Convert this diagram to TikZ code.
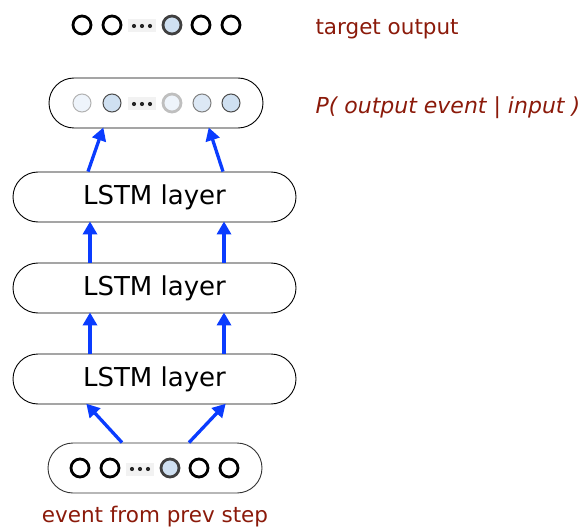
\documentclass[tikz,border=0pt]{standalone}
\usepackage{fontspec}
\setmainfont{DejaVu Sans}
\usetikzlibrary{arrows.meta,calc}
\definecolor{redtxt}{HTML}{8B1A0A}
\definecolor{arrblue}{HTML}{0A3CFF}
\definecolor{fillA}{HTML}{CFE0F1}
\definecolor{fillB}{HTML}{EEF4FB}
\definecolor{fillC}{HTML}{DCE8F5}
\tikzset{
  pill/.style={draw=black, line width=0.9pt, rounded corners=25pt, minimum width=#1, minimum height=50pt, inner sep=0pt},
  unit/.style={circle, minimum size=18pt, inner sep=0pt, line width=2.8pt, draw=black, fill=white},
  hot/.style={unit, draw=black!75, fill=fillA},
  dotsbox/.style={fill=black!5, minimum width=28pt, minimum height=13pt, inner sep=0pt},
  flow/.style={-{Triangle[length=13pt,width=14pt]}, draw=arrblue, line width=3.3pt, shorten >=-1pt},
  lbl/.style={text=redtxt, font=\fontsize{21.5}{24}\selectfont, anchor=west},
  lstm/.style={pill=283pt, font=\fontsize{26}{28}\selectfont}
}
\newcommand{\mydots}[1]{\foreach \dx in {-8,0,8} \fill[black!85] ($(#1)+(\dx,0)$) circle (2.1pt);}
\begin{document}
\begin{tikzpicture}[x=1pt,y=-1pt]
\useasboundingbox (0,0) rectangle (584,532);
% target row
\node[unit] (t1) at (82,25) {};
\node[unit] (t2) at (112,25) {};
\node[dotsbox] (td) at (142,26) {};
\mydots{td}
\node[hot] (t4) at (172,25) {};
\node[unit] (t5) at (201,25) {};
\node[unit] (t6) at (231,25) {};
% output box
\node[pill=214pt] (out) at (156,103) {};
\node[unit, line width=1pt, draw=black!30, fill=fillB] (o1) at (82,103) {};
\node[unit, line width=1pt, draw=black!70, fill=fillA] (o2) at (112,103) {};
\node[dotsbox] (od) at (142,104) {};
\mydots{od}
\node[unit, line width=2.8pt, draw=black!25, fill=fillB] (o4) at (172,103) {};
\node[unit, line width=1pt, draw=black!50, fill=fillC] (o5) at (202,103) {};
\node[unit, line width=1pt, draw=black!70, fill=fillA] (o6) at (231,103) {};
% LSTM layers
\node[lstm] (l3) at (154.5,197) {LSTM layer};
\node[lstm] (l2) at (154.5,288) {LSTM layer};
\node[lstm] (l1) at (154.5,379) {LSTM layer};
% input box
\node[pill=214pt, draw=black!80] (in) at (155,468) {};
\node[unit] (i1) at (80,468) {};
\node[unit] (i2) at (110,468) {};
\node[dotsbox] (id) at (140,469) {};
\mydots{id}
\node[hot] (i4) at (170,468) {};
\node[unit] (i5) at (199,468) {};
\node[unit] (i6) at (229,468) {};
% arrows
\draw[flow] (in.north -| 122,0) -- (l1.south -| 87,0);
\draw[flow] (in.north -| 189,0) -- (l1.south -| 225,0);
\draw[flow] (l1.north -| 90,0) -- (l2.south -| 90,0);
\draw[flow] (l1.north -| 224,0) -- (l2.south -| 224,0);
\draw[flow] (l2.north -| 90,0) -- (l3.south -| 90,0);
\draw[flow] (l2.north -| 224,0) -- (l3.south -| 224,0);
\draw[flow] (l3.north -| 88,0) -- (out.south -| 103,0);
\draw[flow] (l3.north -| 223,0) -- (out.south -| 209,0);
% labels
\node[lbl] (lt) at (312,29) {target output};
\node[lbl, font=\fontsize{22}{24}\selectfont\itshape] (lp) at (312,108) {P( output event | input )};
\node[text=redtxt, font=\fontsize{21.5}{24}\selectfont] (le) at (155,517) {event from prev step};
\end{tikzpicture}
\end{document}
